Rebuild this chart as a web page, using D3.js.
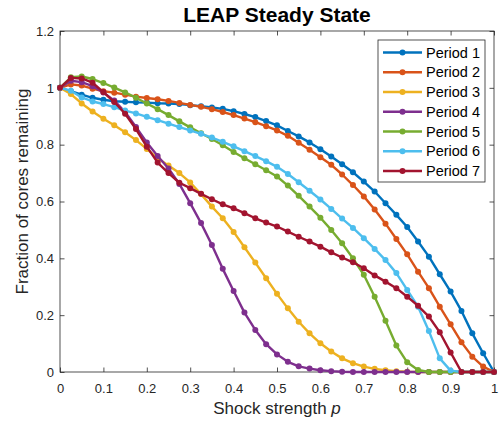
<!DOCTYPE html>
<html>
<head>
<meta charset="utf-8">
<script src="https://cdn.jsdelivr.net/npm/d3@7"></script>
<style>
  body { margin: 0; background: #fff; }
  text { font-family: "Liberation Sans", Arial, sans-serif; }
</style>
</head>
<body>
<div id="chart"></div>
<script>
// shock strength values (x)
var shock = [0, 0.025, 0.05, 0.075, 0.1, 0.125, 0.15, 0.175, 0.2, 0.225,
  0.25, 0.275, 0.3, 0.325, 0.35, 0.375, 0.4, 0.425, 0.45, 0.475,
  0.5, 0.525, 0.55, 0.575, 0.6, 0.625, 0.65, 0.675, 0.7, 0.725,
  0.75, 0.775, 0.8, 0.825, 0.85, 0.875, 0.9, 0.925, 0.95, 0.975, 1];

var period1 = [1, 0.988, 0.976, 0.965, 0.958, 0.953, 0.951, 0.949, 0.948, 0.946,
  0.945, 0.943, 0.939, 0.935, 0.931, 0.926, 0.918, 0.908, 0.897, 0.883,
  0.868, 0.848, 0.829, 0.808, 0.784, 0.758, 0.731, 0.703, 0.67, 0.635,
  0.594, 0.553, 0.51, 0.459, 0.406, 0.344, 0.283, 0.215, 0.136, 0.066, 0];
var period2 = [1, 1.012, 1.008, 0.997, 0.988, 0.983, 0.976, 0.969, 0.964, 0.96,
  0.954, 0.947, 0.94, 0.933, 0.925, 0.915, 0.904, 0.892, 0.879, 0.865,
  0.85, 0.831, 0.807, 0.782, 0.756, 0.729, 0.695, 0.658, 0.618, 0.572,
  0.522, 0.468, 0.414, 0.353, 0.295, 0.23, 0.168, 0.105, 0.054, 0.019, 0];
var period3 = [1, 0.978, 0.945, 0.917, 0.891, 0.868, 0.844, 0.816, 0.785, 0.752,
  0.727, 0.70, 0.667, 0.626, 0.582, 0.541, 0.493, 0.439, 0.385, 0.330,
  0.275, 0.224, 0.177, 0.136, 0.101, 0.072, 0.048, 0.031, 0.019, 0.011,
  0.006, 0.003, 0.001, 0, 0, 0, 0, 0, 0, 0, 0];
var period4 = [1, 1.025, 1.02, 1.006, 0.984, 0.955, 0.915, 0.862, 0.808, 0.76,
  0.716, 0.662, 0.594, 0.524, 0.447, 0.363, 0.285, 0.209, 0.148, 0.098,
  0.062, 0.036, 0.02, 0.012, 0.006, 0.003, 0.001, 0, 0, 0,
  0, 0, 0, 0, 0, 0, 0, 0, 0, 0, 0];
var period5 = [1, 1.037, 1.04, 1.031, 1.017, 1.001, 0.984, 0.965, 0.945, 0.925,
  0.904, 0.882, 0.861, 0.84, 0.82, 0.798, 0.774, 0.752, 0.731, 0.71,
  0.688, 0.656, 0.62, 0.582, 0.543, 0.5, 0.453, 0.4, 0.342, 0.265,
  0.18, 0.093, 0.034, 0.007, 0, 0, 0, 0, 0, 0, 0];
var period6 = [1, 0.99, 0.966, 0.952, 0.943, 0.932, 0.92, 0.91, 0.898, 0.886,
  0.874, 0.862, 0.85, 0.838, 0.825, 0.81, 0.794, 0.777, 0.76, 0.742,
  0.722, 0.697, 0.668, 0.638, 0.607, 0.574, 0.54, 0.507, 0.471, 0.433,
  0.394, 0.348, 0.289, 0.23, 0.144, 0.048, 0.005, 0, 0, 0, 0];
var period7 = [1, 1.035, 1.033, 1.018, 0.985, 0.95, 0.909, 0.855, 0.793, 0.737,
  0.70, 0.666, 0.647, 0.627, 0.608, 0.59, 0.576, 0.559, 0.541, 0.526,
  0.512, 0.494, 0.476, 0.459, 0.441, 0.421, 0.403, 0.386, 0.365, 0.34,
  0.318, 0.295, 0.265, 0.233, 0.195, 0.14, 0.069, 0, 0, 0, 0];

var names = ["Period 1", "Period 2", "Period 3", "Period 4", "Period 5", "Period 6", "Period 7"];
var colors = ["#0072BD", "#D95319", "#EDB120", "#7E2F8E", "#77AC30", "#4DBEEE", "#A2142F"];
var xTicks = [0, 0.1, 0.2, 0.3, 0.4, 0.5, 0.6, 0.7, 0.8, 0.9, 1];
var yTicks = [0, 0.2, 0.4, 0.6, 0.8, 1, 1.2];

var series = [period1, period2, period3, period4, period5, period6, period7];

// set the dimensions and margins of the graph
var margin = {top: 31, right: 7, bottom: 50, left: 60},
    width = 494 - margin.left,
    height = 372 - margin.top;

var svg = d3.select("#chart")
  .append("svg")
    .attr("width", 501)
    .attr("height", 422)
  .append("g")
    .attr("transform", "translate(" + margin.left + "," + margin.top + ")");

var x = d3.scaleLinear().domain([0, 1]).range([0, width]);
var y = d3.scaleLinear().domain([0, 1.2]).range([height, 0]);

var axisColor = "#262626";
var tickLen = 4.5;

// box
svg.append("rect")
  .attr("x", 0).attr("y", 0)
  .attr("width", width).attr("height", height)
  .attr("fill", "none")
  .attr("stroke", axisColor)
  .attr("stroke-width", 0.8);

// ticks point inward, mirrored on top and right
function styleAxis(g) {
  g.select(".domain").remove();
  g.selectAll(".tick line").attr("stroke", axisColor).attr("stroke-width", 0.8);
  g.selectAll(".tick text")
    .attr("fill", axisColor)
    .style("font-size", "13px")
    .style("font-family", "'Liberation Sans', Arial, sans-serif");
}

svg.append("g")
  .attr("transform", "translate(0," + height + ")")
  .call(d3.axisBottom(x).tickValues(xTicks).tickFormat(d3.format("")).tickSizeInner(-tickLen).tickPadding(12))
  .call(styleAxis);
svg.append("g")
  .call(d3.axisTop(x).tickValues(xTicks).tickFormat("").tickSizeInner(-tickLen))
  .call(styleAxis);

svg.append("g")
  .call(d3.axisLeft(y).tickValues(yTicks).tickFormat(d3.format("")).tickSizeInner(-tickLen).tickPadding(6))
  .call(styleAxis);
svg.append("g")
  .attr("transform", "translate(" + width + ",0)")
  .call(d3.axisRight(y).tickValues(yTicks).tickFormat("").tickSizeInner(-tickLen))
  .call(styleAxis);

// lines and dots
var line = d3.line()
  .x(function(d, i) { return x(shock[i]); })
  .y(function(d) { return y(d); });

series.forEach(function(vals, s) {
  svg.append("path")
    .datum(vals)
    .attr("fill", "none")
    .attr("stroke", colors[s])
    .attr("stroke-width", 2.4)
    .attr("stroke-linejoin", "round")
    .attr("d", line);
  svg.append("g")
    .selectAll("circle")
    .data(vals)
    .enter()
    .append("circle")
      .attr("cx", function(d, i) { return x(shock[i]); })
      .attr("cy", function(d) { return y(d); })
      .attr("r", 3)
      .style("fill", colors[s]);
});

// title
svg.append("text")
  .attr("x", width / 2)
  .attr("y", -9)
  .attr("text-anchor", "middle")
  .style("font-size", "21px")
  .style("font-weight", "bold")
  .attr("fill", "#000")
  .text("LEAP Steady State");

// x label
var xl = svg.append("text")
  .attr("x", width / 2)
  .attr("y", height + 41.5)
  .attr("text-anchor", "middle")
  .style("font-size", "17px")
  .attr("fill", axisColor);
xl.append("tspan").text("Shock strength ");
xl.append("tspan").style("font-style", "italic").text("p");

// y label
svg.append("text")
  .attr("transform", "rotate(-90)")
  .attr("x", -(191.5 - margin.top))
  .attr("y", -32)
  .attr("text-anchor", "middle")
  .style("font-size", "17px")
  .attr("fill", axisColor)
  .text("Fraction of cores remaining");

// legend
var lg = svg.append("g").attr("transform", "translate(" + (378 - margin.left) + "," + (40 - margin.top) + ")");
lg.append("rect")
  .attr("width", 107).attr("height", 142)
  .attr("fill", "#fff")
  .attr("stroke", axisColor)
  .attr("stroke-width", 0.8);
names.forEach(function(n, i) {
  var row = lg.append("g").attr("transform", "translate(0," + (12.5 + i * 19.75) + ")");
  row.append("line")
    .attr("x1", 5).attr("x2", 44)
    .attr("stroke", colors[i]).attr("stroke-width", 2.4);
  row.append("circle").attr("cx", 24.5).attr("r", 3).style("fill", colors[i]);
  row.append("text")
    .attr("x", 48).attr("dy", "0.35em")
    .style("font-size", "14.5px")
    .attr("fill", "#000")
    .text(n);
});
</script>
</body>
</html>
